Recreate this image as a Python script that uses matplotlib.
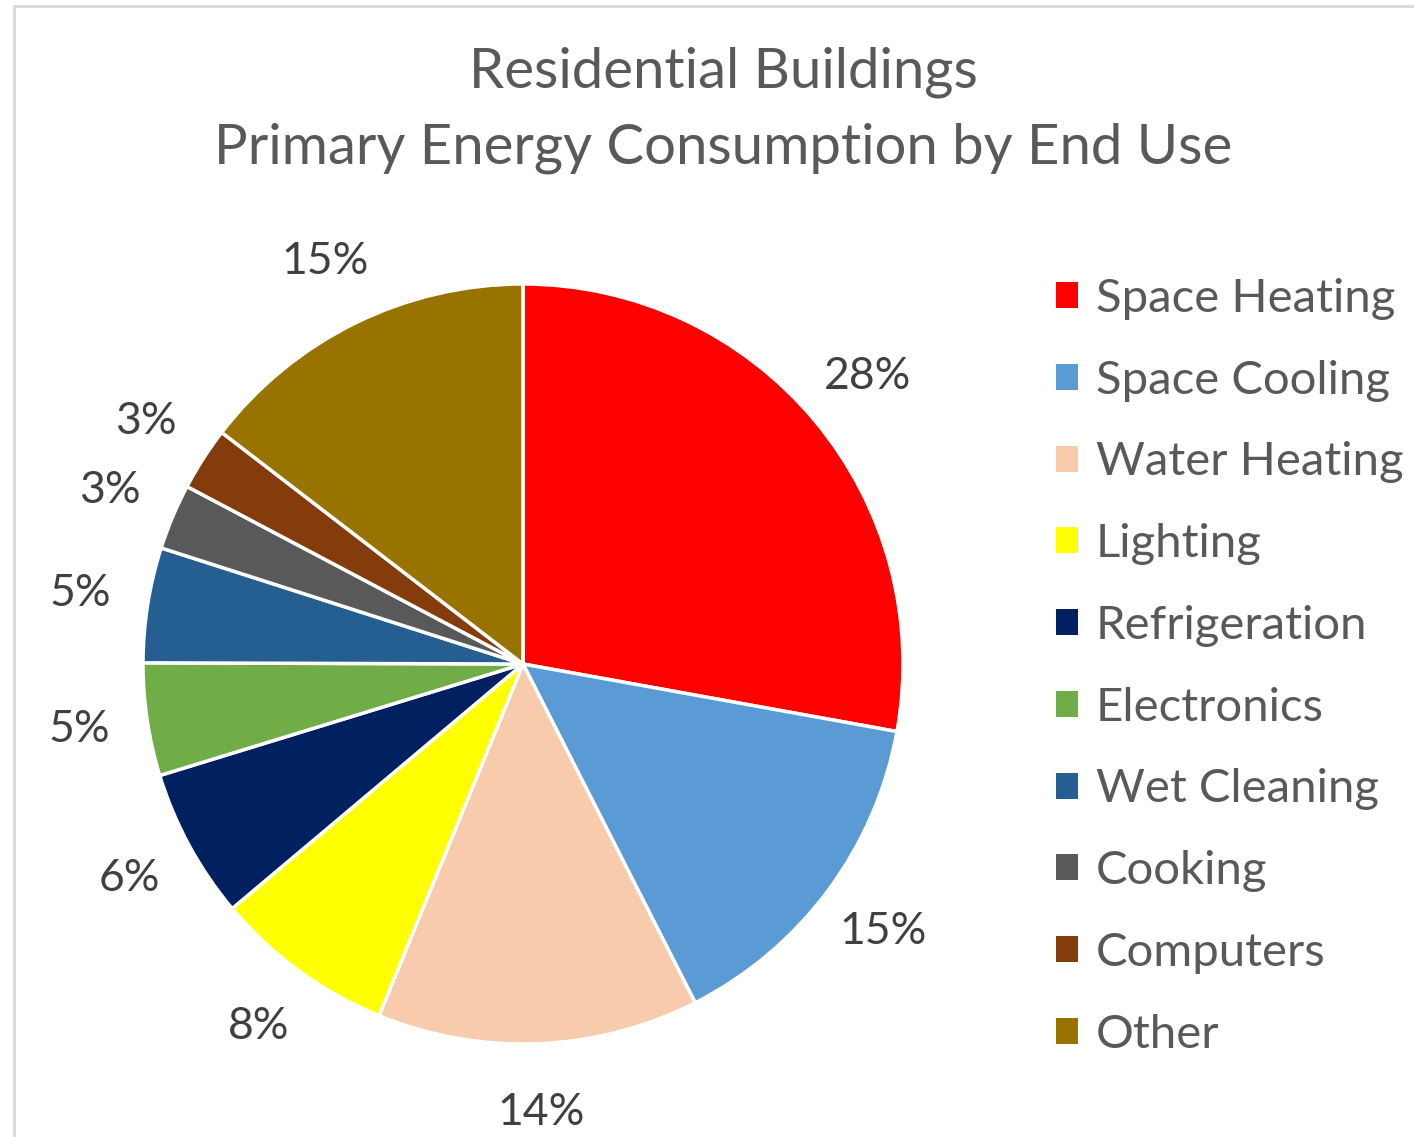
import matplotlib
matplotlib.use("Agg")
import matplotlib.pyplot as plt
from matplotlib.patches import Patch, Rectangle

categories = ["Space Heating", "Space Cooling", "Water Heating", "Lighting",
              "Refrigeration", "Electronics", "Wet Cleaning", "Cooking",
              "Computers", "Other"]
values = [27.9, 14.7, 13.7, 7.7, 6.4, 4.8, 4.9, 2.8, 2.7, 14.6]
colors = ["#FF0000", "#5B9BD5", "#F8CBAD", "#FFFF00", "#002060",
          "#70AD47", "#255E91", "#595959", "#843C0C", "#997300"]
title_lines = ["Residential Buildings", "Primary Energy Consumption by End Use"]

FONT = ["Lato", "DejaVu Sans"]
W, H = 1414, 1137
fig = plt.figure(figsize=(W / 100, H / 100), dpi=100)
fig.patch.set_facecolor("white")

# chart-area border (left and top visible)
fig.add_artist(Rectangle((14 / W, -0.05), 1.2, (H - 6) / H + 0.05,
                         transform=fig.transFigure, fill=False,
                         edgecolor="#D9D9D9", linewidth=2))

cx, cy, r = 523, 664, 380
half = 470
ax = fig.add_axes([(cx - half) / W, (H - cy - half) / H, 2 * half / W, 2 * half / H])
lim = half / r
ax.set_aspect("equal")
ax.axis("off")

wedges, texts, autotexts = ax.pie(
    values, colors=colors, startangle=90, counterclock=False,
    autopct="%.0f%%", pctdistance=1.18, radius=1.0,
    wedgeprops=dict(edgecolor="white", linewidth=2.5),
    textprops=dict(fontsize=32, color="#404040", family=FONT))
ax.set_xlim(-lim, lim)
ax.set_ylim(-lim, lim)

fig.text(723 / W, 1 - 72 / H, title_lines[0], ha="center", va="center",
         fontsize=40.5, color="#595959", family=FONT)
fig.text(723 / W, 1 - 148 / H, title_lines[1], ha="center", va="center",
         fontsize=40.5, color="#595959", family=FONT)

handles = [Patch(facecolor=c, edgecolor="none") for c in colors]
leg = fig.legend(handles, categories, loc="upper left",
                 bbox_to_anchor=(1037 / W, 1 - 259 / H),
                 frameon=False, handlelength=0.47, handleheight=0.47,
                 handletextpad=0.38, labelspacing=0.842, borderaxespad=0,
                 prop=dict(family=FONT, size=34))
for t in leg.get_texts():
    t.set_color("#595959")

fig.savefig("out.png", dpi=100, facecolor="white")
